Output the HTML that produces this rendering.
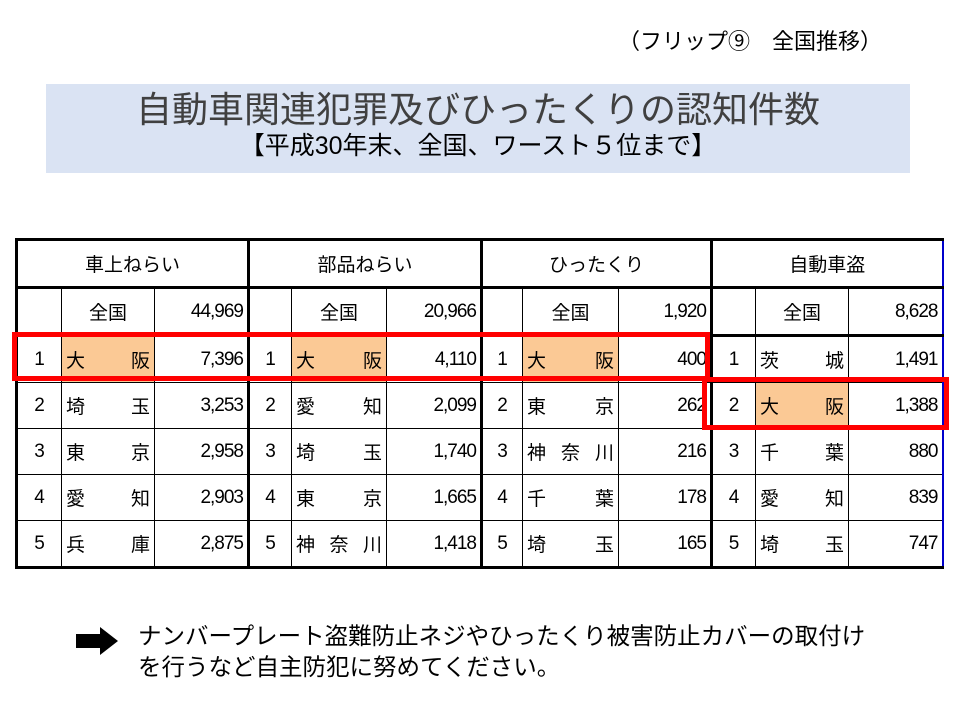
<!DOCTYPE html>
<html><head><meta charset="utf-8">
<style>
body{margin:0;width:960px;height:720px;background:#fff;position:relative;overflow:hidden;font-family:"Liberation Sans","Noto Sans CJK JP",sans-serif;color:#000}
.abs{position:absolute}
table{position:absolute;left:15px;top:238px;border-collapse:collapse;table-layout:fixed;font-size:19px}
td{border:1px solid #000;height:45px;padding:0 4px;white-space:nowrap;overflow:hidden}
td.num{text-align:right;letter-spacing:-1px}
td.rk{text-align:center}
td.nm{text-align:justify;text-align-last:justify}
.hl{background:#fbc995}
.grp{text-align:center;border-left:3px solid #000;border-right:3px solid #000}
tr.hd td{border-top:3px solid #000;border-bottom:3px solid #000}
tr.tot td{border-bottom:3px solid #000}
tr.last td{border-bottom:3px solid #000}
td.gl{border-left:3px solid #000}
td.gn{border-left:1px solid #ddd}
.red{position:absolute;border:5px solid #f00;box-sizing:border-box}
</style></head><body>
<div class="abs" style="left:618px;top:24px;font-size:22px;">（フリップ⑨　全国推移）</div>
<div class="abs" style="left:46px;top:84px;width:864px;height:89px;background:#dae3f3;text-align:center;color:#404040">
<div style="font-size:36px;line-height:42px;margin-top:5px">自動車関連犯罪及びひったくりの認知件数</div>
<div style="font-size:25px;line-height:30px;color:#000">【平成30年末、全国、ワースト５位まで】</div>
</div>
<table>
<colgroup><col style="width:45px"><col style="width:93px"><col style="width:94px"><col style="width:43px"><col style="width:95px"><col style="width:95px"><col style="width:41px"><col style="width:96px"><col style="width:93px"><col style="width:44px"><col style="width:93px"><col style="width:94px"></colgroup>
<tr class="hd"><td colspan="3" class="grp">車上ねらい</td><td colspan="3" class="grp">部品ねらい</td><td colspan="3" class="grp">ひったくり</td><td colspan="3" class="grp" style="border-right:2px solid #00c">自動車盗</td></tr>
<tr class="tot"><td class="gl"></td><td class="rk gn">全国</td><td class="num">44,969</td><td class="gl"></td><td class="rk gn">全国</td><td class="num">20,966</td><td class="gl"></td><td class="rk gn">全国</td><td class="num">1,920</td><td class="gl"></td><td class="rk gn">全国</td><td class="num" style="border-right:2px solid #00c">8,628</td></tr>
<tr><td class="rk gl">1</td><td class="nm hl">大　阪</td><td class="num">7,396</td><td class="rk gl">1</td><td class="nm hl">大　阪</td><td class="num">4,110</td><td class="rk gl">1</td><td class="nm hl">大　阪</td><td class="num">400</td><td class="rk gl">1</td><td class="nm">茨　城</td><td class="num" style="border-right:2px solid #00c">1,491</td></tr>
<tr><td class="rk gl">2</td><td class="nm">埼　玉</td><td class="num">3,253</td><td class="rk gl">2</td><td class="nm">愛　知</td><td class="num">2,099</td><td class="rk gl">2</td><td class="nm">東　京</td><td class="num">262</td><td class="rk gl">2</td><td class="nm hl">大　阪</td><td class="num" style="border-right:2px solid #00c">1,388</td></tr>
<tr><td class="rk gl">3</td><td class="nm">東　京</td><td class="num">2,958</td><td class="rk gl">3</td><td class="nm">埼　玉</td><td class="num">1,740</td><td class="rk gl">3</td><td class="nm">神奈川</td><td class="num">216</td><td class="rk gl">3</td><td class="nm">千　葉</td><td class="num" style="border-right:2px solid #00c">880</td></tr>
<tr><td class="rk gl">4</td><td class="nm">愛　知</td><td class="num">2,903</td><td class="rk gl">4</td><td class="nm">東　京</td><td class="num">1,665</td><td class="rk gl">4</td><td class="nm">千　葉</td><td class="num">178</td><td class="rk gl">4</td><td class="nm">愛　知</td><td class="num" style="border-right:2px solid #00c">839</td></tr>
<tr class="last"><td class="rk gl">5</td><td class="nm">兵　庫</td><td class="num">2,875</td><td class="rk gl">5</td><td class="nm">神奈川</td><td class="num">1,418</td><td class="rk gl">5</td><td class="nm">埼　玉</td><td class="num">165</td><td class="rk gl">5</td><td class="nm">埼　玉</td><td class="num" style="border-right:2px solid #00c">747</td></tr>
</table>
<div class="red" style="left:12px;top:332px;width:698px;height:49px"></div>
<div class="red" style="left:702px;top:377px;width:247px;height:53px"></div>
<svg class="abs" style="left:76px;top:627px" width="44" height="28"><polygon points="0,7 24,7 24,0 42,14 24,28 24,21 0,21" fill="#000"/></svg>
<div class="abs" style="left:138px;top:621px;font-size:23.5px;line-height:31px">ナンバープレート盗難防止ネジやひったくり被害防止カバーの取付け<br>を行うなど自主防犯に努めてください。</div>
</body></html>
